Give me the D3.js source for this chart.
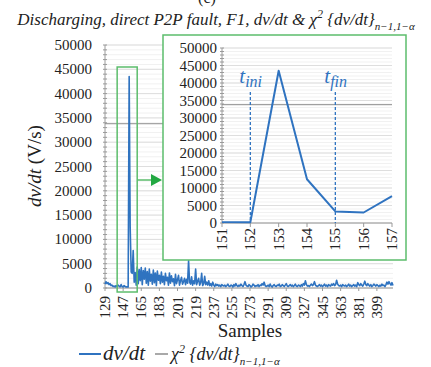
<!DOCTYPE html>
<html>
<head>
<meta charset="utf-8">
<script src="https://cdn.jsdelivr.net/npm/d3@7"></script>
<style>
  html, body { margin: 0; padding: 0; background: #fff; }
  svg { display: block; }
</style>
</head>
<body>
<svg id="chart" width="431" height="367"></svg>
<script>
// First sample number of the recorded series (one value per sample)
const firstSample = 129;

// dv/dt (V/s) per sample, samples 129 .. 415
const dvdt = [
  800, 1300, 900, 1100, 700, 900, 500, 600, 300, 400,
  200, 500, 300, 600, 400, 250, 700, 300, 200, 500,
  300, 200, 250,
  200, 43500, 12500, 3300, 3000, 7700,
  1200, 3200, 600, 4300, 900, 3800, 1500, 4200, 700, 3600,
  1800, 4100, 1000, 3400, 600, 3900, 1400, 2800, 800, 3700,
  1100, 3100, 500, 3500, 1600, 2600, 900, 3300, 1200, 2400,
  700, 3000, 1500, 2200, 600, 3100, 1000, 2500, 1300, 1900,
  500, 2800, 900, 1700, 2600, 600, 1500, 2200, 800, 1300,
  2000, 700, 1800, 1000, 5600, 1200, 800, 2300, 600, 1500,
  900, 3900, 700, 1400, 2000, 600, 1100, 3000, 500, 900,
  2400, 700, 1200, 600, 1500, 500, 900, 400, 1200, 600,
  300, 800, 500, 700, 400, 600, 300, 700, 500, 400,
  600, 300, 500, 800, 400, 300, 600, 500, 200, 700,
  400, 900, 500, 300, 600, 400, 800, 500, 300, 700,
  1300, 600, 400, 300, 700, 500, 200, 400, 800, 600,
  300, 500, 400, 700, 300, 600, 500, 900, 600, 1200,
  500, 300, 400, 600, 300, 800, 400, 200, 500, 700,
  400, 300, 600, 500, 800, 300, 400, 700, 500, 300,
  600, 900, 400, 300, 500, 700, 400, 600, 300, 500,
  800, 400, 300, 600, 500, 300, 700, 400, 900, 600,
  1500, 700, 400, 500, 300, 600, 800, 500, 700, 1300,
  600, 400, 300, 500, 700, 400, 600, 300, 500, 800,
  400, 600, 300, 700, 500, 400, 800, 600, 900, 500,
  700, 1600, 800, 500, 400, 600, 300, 700, 500, 400,
  600, 300, 500, 800, 400, 600, 300, 500, 700, 400,
  600, 300, 1100, 700, 500, 900, 600, 400, 800, 1400,
  700, 500, 900, 600, 400, 700, 300, 500, 800, 600,
  400, 700, 500, 300, 600, 400, 800, 500, 600, 300,
  700, 1200, 800, 1300, 900, 600, 1100, 500
];
const samples = dvdt.map((_, i) => firstSample + i);

// Chi-square threshold of dv/dt
const chiThreshold = 33800;

// Tick labels
const mainXTicks = [129, 147, 165, 183, 201, 219, 237, 255, 273, 291, 309, 327, 345, 363, 381, 399];
const yTicks = [0, 5000, 10000, 15000, 20000, 25000, 30000, 35000, 40000, 45000, 50000];
const insetSamples = [151, 152, 153, 154, 155, 156, 157];
// Fault start / end markers
const faultMarks = [{ s: 152, label: "ini" }, { s: 155, label: "fin" }];

const BLUE = "#2f73c0";
const GREEN = "#5cbd6c";
const GREY = "#8c8c8c";
const SERIF = '"Liberation Serif"';
const INK = "#222";

const svg = d3.select("#chart");
const pts = samples.map((s, i) => ({ s, v: dvdt[i] }));

function txt(sel, size) {
  return sel.style("font-family", SERIF).style("font-size", size + "px").attr("fill", INK);
}

// ---------- partial panel letter at top ----------
txt(svg.append("text"), 16).attr("x", 207).attr("y", 3).attr("text-anchor", "middle").text("(c)");

// ---------- title ----------
const title = txt(svg.append("text"), 17).attr("x", 216).attr("y", 25).attr("text-anchor", "middle")
  .style("font-style", "italic");
title.append("tspan").text("Discharging, direct P2P fault, F1, dv/dt & χ");
title.append("tspan").attr("dy", -7).style("font-size", "12px").text("2");
title.append("tspan").attr("dy", 7).style("font-size", "17px").text(" {dv/dt}");
title.append("tspan").attr("dy", 5).style("font-size", "11px").text("n−1,1−α");

// ---------- main chart ----------
const x = d3.scaleLinear().domain([firstSample, firstSample + dvdt.length - 1]).range([105, 393]);
const y = d3.scaleLinear().domain([0, 50000]).range([288, 45]);

function grid(g, yScale, x0, x1) {
  g.selectAll("line.minor").data(d3.range(0, 50001, 1000)).join("line")
    .attr("x1", x0).attr("x2", x1).attr("y1", d => yScale(d)).attr("y2", d => yScale(d))
    .attr("stroke", "#f1f1f1").attr("stroke-width", 1);
  g.selectAll("line.major").data(yTicks).join("line").attr("class", "major")
    .attr("x1", x0).attr("x2", x1).attr("y1", d => yScale(d)).attr("y2", d => yScale(d))
    .attr("stroke", "#dedede").attr("stroke-width", 1);
}
function yAxis(g, yScale, x0, labelX) {
  g.append("line").attr("x1", x0).attr("x2", x0).attr("y1", yScale(0)).attr("y2", yScale(50000))
    .attr("stroke", "#9a9a9a");
  g.selectAll("line.mt").data(d3.range(0, 50001, 1000)).join("line").attr("class", "mt")
    .attr("x1", x0 - 2).attr("x2", x0 + 2).attr("y1", d => yScale(d)).attr("y2", d => yScale(d))
    .attr("stroke", "#9a9a9a");
  txt(g.selectAll("text").data(yTicks).join("text"), 15)
    .attr("x", labelX).attr("y", d => yScale(d) + 5).attr("text-anchor", "end").text(d => d);
}

const main = svg.append("g");
grid(main.append("g"), y, 105, 393);
yAxis(main.append("g"), y, 105, 92);

// x axis
main.append("line").attr("x1", 105).attr("x2", 393).attr("y1", y(0)).attr("y2", y(0)).attr("stroke", "#9a9a9a");
main.selectAll("line.xt").data(mainXTicks).join("line").attr("class", "xt")
  .attr("x1", d => x(d)).attr("x2", d => x(d)).attr("y1", y(0)).attr("y2", y(0) + 3).attr("stroke", "#9a9a9a");
txt(main.selectAll("text.xl").data(mainXTicks).join("text").attr("class", "xl"), 15)
  .attr("transform", d => `translate(${x(d) + 5},296) rotate(-90)`)
  .attr("text-anchor", "end").text(d => d);

// threshold and series
main.append("line").attr("x1", 105).attr("x2", 393).attr("y1", y(chiThreshold)).attr("y2", y(chiThreshold))
  .attr("stroke", GREY).attr("stroke-width", 1);
main.append("path").datum(pts)
  .attr("d", d3.line().x(d => x(d.s)).y(d => y(d.v)))
  .attr("fill", "none").attr("stroke", BLUE).attr("stroke-width", 1.6).attr("stroke-linejoin", "round");

// axis titles
const yt = txt(svg.append("text"), 19).attr("transform", "translate(41,166) rotate(-90)")
  .attr("text-anchor", "middle");
yt.append("tspan").style("font-style", "italic").text("dv/dt");
yt.append("tspan").text(" (V/s)");
txt(svg.append("text"), 19).attr("x", 250).attr("y", 337).attr("text-anchor", "middle").text("Samples");

// zoom box around the peak and arrow to the inset
const zx0 = x(insetSamples[0]) - 10, zx1 = x(insetSamples[insetSamples.length - 1]) + 4;
svg.append("rect").attr("x", zx0).attr("y", 67).attr("width", zx1 - zx0).attr("height", 225)
  .attr("fill", "none").attr("stroke", GREEN).attr("stroke-width", 1.5);
svg.append("line").attr("x1", zx1).attr("x2", 152).attr("y1", 180).attr("y2", 180)
  .attr("stroke", GREEN).attr("stroke-width", 1.5);
svg.append("path").attr("d", "M151,174 L162,180 L151,186 Z").attr("fill", "#22a842");

// ---------- inset ----------
const ix = d3.scaleLinear().domain([insetSamples[0], insetSamples[insetSamples.length - 1]]).range([222, 392]);
const iy = d3.scaleLinear().domain([0, 50000]).range([223, 48]);
const inset = svg.append("g");
inset.append("rect").attr("x", 163).attr("y", 35).attr("width", 243).attr("height", 225)
  .attr("fill", "#fff").attr("stroke", GREEN).attr("stroke-width", 1.5);
grid(inset.append("g"), iy, 222, 392);
yAxis(inset.append("g"), iy, 222, 217);
inset.append("line").attr("x1", 222).attr("x2", 392).attr("y1", iy(0)).attr("y2", iy(0)).attr("stroke", "#9a9a9a");
inset.selectAll("line.xt").data(insetSamples).join("line").attr("class", "xt")
  .attr("x1", d => ix(d)).attr("x2", d => ix(d)).attr("y1", iy(0)).attr("y2", iy(0) + 4).attr("stroke", "#9a9a9a");
txt(inset.selectAll("text.xl").data(insetSamples).join("text").attr("class", "xl"), 15)
  .attr("transform", d => `translate(${ix(d) + 5},228) rotate(-90)`)
  .attr("text-anchor", "end").text(d => d);
inset.append("line").attr("x1", 222).attr("x2", 392).attr("y1", iy(chiThreshold)).attr("y2", iy(chiThreshold))
  .attr("stroke", GREY).attr("stroke-width", 1);

// fault start / end markers
inset.selectAll("line.fm").data(faultMarks).join("line").attr("class", "fm")
  .attr("x1", d => ix(d.s)).attr("x2", d => ix(d.s)).attr("y1", 92).attr("y2", iy(0))
  .attr("stroke", BLUE).attr("stroke-width", 1.3).attr("stroke-dasharray", "3,2");
const fl = txt(inset.selectAll("text.fl").data(faultMarks).join("text").attr("class", "fl"), 21)
  .attr("x", d => ix(d.s) - 11).attr("y", 83)
  .style("font-style", "italic").attr("fill", BLUE);
fl.append("tspan").text("t");
fl.append("tspan").attr("dy", 4).style("font-size", "16px").text(d => d.label);

const insetPts = pts.filter(d => d.s >= insetSamples[0] && d.s <= insetSamples[insetSamples.length - 1]);
inset.append("path").datum(insetPts)
  .attr("d", d3.line().x(d => ix(d.s)).y(d => iy(d.v)))
  .attr("fill", "none").attr("stroke", BLUE).attr("stroke-width", 2).attr("stroke-linejoin", "round");

// ---------- legend ----------
const lg = svg.append("g");
lg.append("line").attr("x1", 79).attr("x2", 101).attr("y1", 354).attr("y2", 354).attr("stroke", BLUE).attr("stroke-width", 2);
txt(lg.append("text"), 21).attr("x", 103).attr("y", 360).style("font-style", "italic").text("dv/dt");
lg.append("line").attr("x1", 155).attr("x2", 168).attr("y1", 354).attr("y2", 354).attr("stroke", GREY).attr("stroke-width", 1.5);
const lt = txt(lg.append("text"), 18).attr("x", 171).attr("y", 360).style("font-style", "italic");
lt.append("tspan").text("χ");
lt.append("tspan").attr("dy", -7).style("font-size", "12px").text("2");
lt.append("tspan").attr("dy", 7).style("font-size", "18px").text(" {dv/dt}");
lt.append("tspan").attr("dy", 5).style("font-size", "11px").text("n−1,1−α");
</script>
</body>
</html>
